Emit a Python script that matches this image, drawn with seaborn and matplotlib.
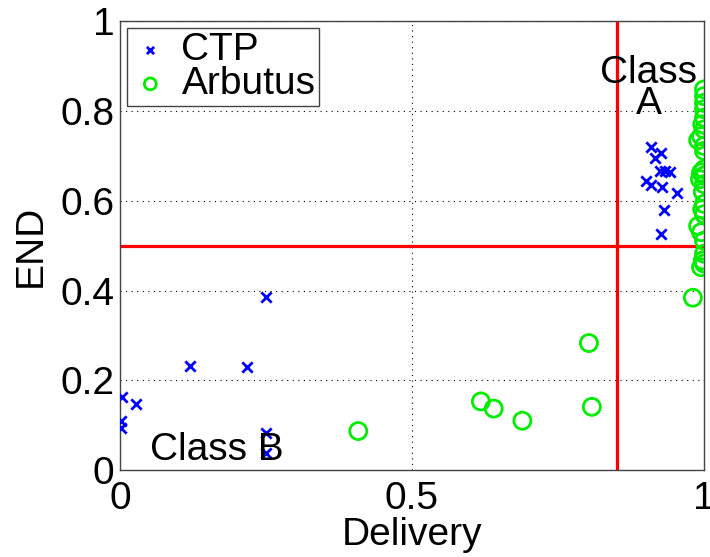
import pandas as pd
import numpy as np
import seaborn as sns
import matplotlib.pyplot as plt

# CTP points (Delivery, END)
ctp_delivery = [0.004, 0.027, 0.002, 0.002, 0.12, 0.217, 0.25, 0.25, 0.25,
                0.910, 0.927, 0.917, 0.925, 0.933, 0.941, 0.900, 0.909,
                0.928, 0.953, 0.932, 0.926]
ctp_end = [0.163, 0.148, 0.109, 0.094, 0.233, 0.230, 0.385, 0.083, 0.037,
           0.720, 0.707, 0.695, 0.667, 0.667, 0.665, 0.643, 0.636,
           0.630, 0.618, 0.580, 0.526]

# Arbutus points (Delivery, END)
arb_delivery = [0.408, 0.618, 0.640, 0.689, 0.803, 0.808, 0.981,
                1.0, 1.0, 1.0, 1.0, 1.0, 0.997, 1.0, 0.995, 0.99, 1.0, 1.0,
                1.0, 0.995, 1.0, 0.993, 1.0, 0.998, 1.0, 0.997, 1.0, 0.99,
                0.995, 1.0, 1.0, 0.998, 0.995, 1.0]
arb_end = [0.087, 0.153, 0.137, 0.110, 0.283, 0.141, 0.384,
           0.848, 0.833, 0.818, 0.804, 0.785, 0.770, 0.759, 0.744, 0.735, 0.722, 0.711,
           0.670, 0.663, 0.656, 0.648, 0.637, 0.620, 0.593, 0.581, 0.570, 0.544,
           0.530, 0.511, 0.482, 0.467, 0.452, 0.460]

delivery_cut = 0.851
end_cut = 0.5

ctp = pd.DataFrame({'Delivery': ctp_delivery, 'END': ctp_end})
arb = pd.DataFrame({'Delivery': arb_delivery, 'END': arb_end})

sns.set_style('white')
plt.rcParams['font.family'] = ['Liberation Sans', 'DejaVu Sans']
plt.rcParams['text.color'] = 'black'
plt.rcParams['axes.labelcolor'] = 'black'
plt.rcParams['xtick.color'] = 'black'
plt.rcParams['ytick.color'] = 'black'

fig = plt.figure(figsize=(7.1, 5.57), dpi=100)
ax = fig.add_axes([0.169, 0.156, 0.8225, 0.806])

ax.axvline(delivery_cut, color='red', lw=2.3, zorder=1)
ax.axhline(end_cut, color='red', lw=2.3, zorder=1)

sns.scatterplot(data=ctp, x='Delivery', y='END', ax=ax, marker='x',
                color='blue', s=55, linewidth=2, label='CTP', zorder=3)
sns.scatterplot(data=arb, x='Delivery', y='END', ax=ax, marker='o',
                facecolors='none', edgecolors='#00ee00', s=150, linewidth=2,
                label='Arbutus', zorder=3)

ax.set_xlim(0, 1)
ax.set_ylim(0, 1)
ax.set_xticks([0, 0.5, 1])
ax.set_xticklabels(['0', '0.5', '1'])
ax.set_yticks([0, 0.2, 0.4, 0.6, 0.8, 1])
ax.set_yticklabels(['0', '0.2', '0.4', '0.6', '0.8', '1'])
ax.tick_params(labelsize=28, length=0)
ax.tick_params(axis='y', pad=4)
ax.tick_params(axis='x', pad=8)
ax.grid(True, color='black', linestyle=(0, (1, 4)), linewidth=0.8)
for sp in ax.spines.values():
    sp.set_color('#444444')
    sp.set_linewidth(1)

ax.set_xlabel('Delivery', fontsize=28, labelpad=0)
ax.set_ylabel('END', fontsize=28, labelpad=8)

ax.text(0.905, 0.85, 'Class\nA', fontsize=28, ha='center', va='center',
        linespacing=0.8, zorder=4)
ax.text(0.051, 0.022, 'Class B', fontsize=28, ha='left', va='baseline', zorder=4)

leg = ax.legend(loc='upper left', fontsize=28, fancybox=False, framealpha=1,
                edgecolor='#444444', borderaxespad=0.18, handletextpad=0.3,
                handlelength=1.0, markerscale=0.7, borderpad=0.1,
                labelspacing=-0.05)
leg.get_frame().set_linewidth(1)

plt.savefig('out.png', dpi=100)
